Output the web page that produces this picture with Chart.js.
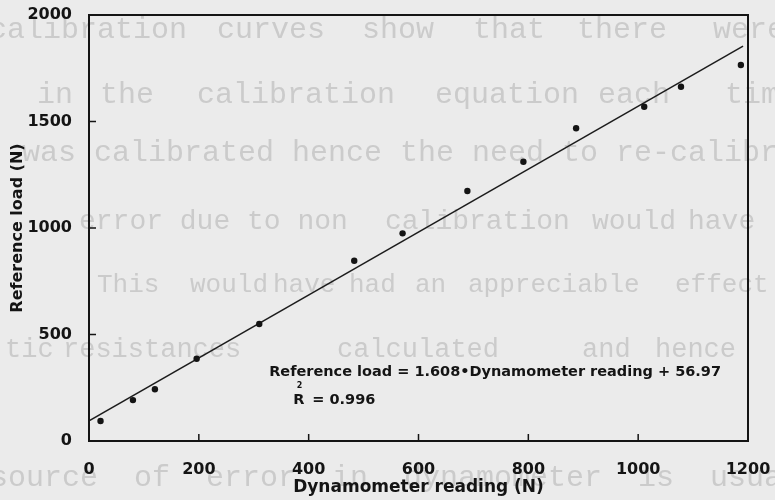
<!DOCTYPE html>
<html>
<head>
<meta charset="utf-8">
<title>Dynamometer calibration</title>
<script src="https://cdn.jsdelivr.net/npm/chart.js@4.4.1/dist/chart.umd.min.js"></script>
<style>
  html, body { margin: 0; padding: 0; background: #ebebeb; }
  canvas { display: block; }
</style>
</head>
<body>
<canvas id="calib-chart" width="775" height="500"></canvas>
<script>
// Calibration points
const dynamometerReading = [21, 80, 120, 196, 310, 483, 571, 689, 791, 887, 1011, 1078, 1187];
const referenceLoad = [94, 192, 243, 386, 549, 846, 975, 1174, 1311, 1468, 1569, 1663, 1765];

// Fitted line, taken from the two ends of the drawn line
const fitX = [0, 1191];
const fitY = [95, 1854];

// Axis ticks
const xTicks = [0, 200, 400, 600, 800, 1000, 1200];
const yTicks = [0, 500, 1000, 1500, 2000];

// Fit annotation
const equationText = 'Reference load = 1.608\u2022Dynamometer reading + 56.97';
const rSquaredValue = '= 0.996';

// Typed text of the page showing through the scan (decoration only)
const bleedLines = [
    { y: 30, size: 30, words: [['calibration', -11], ['curves', 217], ['show', 362], ['that', 473], ['there', 577], ['were', 713]] },
    { y: 95, size: 30, words: [['in', 37], ['the', 100], ['calibration', 197], ['equation', 435], ['each', 598], ['time', 725]] },
    { y: 153, size: 30, words: [['was calibrated hence the need to re-calibrate', 22]] },
    { y: 222, size: 28, words: [['error due to non', 79], ['calibration', 385], ['would', 592], ['have', 688]] },
    { y: 285, size: 26, words: [['This', 97], ['would', 190], ['have', 273], ['had', 349], ['an', 415], ['appreciable', 468], ['effect', 675]] },
    { y: 350, size: 27, words: [['tic', 5], ['resistances', 63], ['calculated', 337], ['and', 582], ['hence', 655]] },
    { y: 478, size: 30, words: [['source', -10], ['of', 134], ['error', 206], ['in', 332], ['dynamometer', 404], ['is', 638], ['usually', 710]] }
];

const INK = '#141414';
const FONT = '"DejaVu Sans", "Liberation Sans", sans-serif';

// Paper background and the faint see-through text
const paperPlugin = {
    id: 'paper',
    beforeDraw(chart) {
        const ctx = chart.ctx;
        ctx.save();
        ctx.fillStyle = '#ebebeb';
        ctx.fillRect(0, 0, chart.width, chart.height);
        ctx.fillStyle = '#cbcbcb';
        ctx.textBaseline = 'middle';
        bleedLines.forEach(line => {
            ctx.font = line.size + 'px "Liberation Mono", "DejaVu Sans Mono", monospace';
            line.words.forEach(([word, x]) => {
                ctx.fillText(word, x, line.y);
            });
        });
        ctx.restore();
    }
};

// Box round the plot and inward tick marks
const framePlugin = {
    id: 'frame',
    afterDatasetsDraw(chart) {
        const ctx = chart.ctx;
        const area = chart.chartArea;
        const xs = chart.scales.x;
        const ys = chart.scales.y;
        ctx.save();
        ctx.strokeStyle = INK;
        ctx.lineWidth = 2;
        ctx.strokeRect(area.left, area.top, area.right - area.left, area.bottom - area.top);
        ctx.lineWidth = 1.5;
        ctx.beginPath();
        xTicks.slice(1, -1).forEach(v => {
            const px = xs.getPixelForValue(v);
            ctx.moveTo(px, area.bottom);
            ctx.lineTo(px, area.bottom - 7);
        });
        yTicks.slice(1, -1).forEach(v => {
            const py = ys.getPixelForValue(v);
            ctx.moveTo(area.left, py);
            ctx.lineTo(area.left + 7, py);
        });
        ctx.stroke();
        ctx.restore();
    }
};

// Regression equation and R squared
const annotationPlugin = {
    id: 'fitLabel',
    afterDatasetsDraw(chart) {
        const ctx = chart.ctx;
        const xs = chart.scales.x;
        const ys = chart.scales.y;
        ctx.save();
        ctx.fillStyle = INK;
        ctx.textBaseline = 'middle';
        ctx.textAlign = 'left';

        // size the equation to the width it has in the scan
        ctx.font = 'bold 13px ' + FONT;
        const size = 13 * 451 / ctx.measureText(equationText).width;
        ctx.font = 'bold ' + size.toFixed(1) + 'px ' + FONT;
        ctx.fillText(equationText, xs.getPixelForValue(328), ys.getPixelForValue(324));

        const rx = xs.getPixelForValue(372);
        const ry = ys.getPixelForValue(192);
        ctx.fillText('R', rx, ry);
        const rw = ctx.measureText('R').width;
        ctx.fillText(rSquaredValue, rx + 19, ry);
        ctx.font = 'bold 8px ' + FONT;
        ctx.fillText('2', rx + rw / 2 - 2, ry - 14);
        ctx.restore();
    }
};

const tickFont = { family: FONT, size: 16, weight: 'bold' };
const titleFont = { family: FONT, size: 17, weight: 'bold' };

new Chart(document.getElementById('calib-chart'), {
    type: 'scatter',
    data: {
        datasets: [{
            label: 'Calibration points',
            data: dynamometerReading.map((x, i) => ({ x: x, y: referenceLoad[i] })),
            pointRadius: 3.2,
            pointBackgroundColor: INK,
            pointBorderWidth: 0,
            showLine: false
        }, {
            label: 'Fit',
            data: fitX.map((x, i) => ({ x: x, y: fitY[i] })),
            showLine: true,
            borderColor: '#1c1c1c',
            borderWidth: 1.5,
            pointRadius: 0
        }]
    },
    options: {
        responsive: false,
        animation: false,
        devicePixelRatio: 1,
        events: [],
        layout: { padding: { left: 0, top: 15, right: 27, bottom: 0 } },
        plugins: {
            legend: { display: false },
            tooltip: { enabled: false }
        },
        scales: {
            x: {
                type: 'linear',
                min: 0,
                max: 1200,
                afterBuildTicks: s => { s.ticks = xTicks.map(v => ({ value: v })); },
                afterFit: s => { s.height = 59; s.paddingLeft = 0; s.paddingRight = 0; },
                grid: { display: false },
                border: { display: false },
                ticks: { color: INK, font: tickFont, padding: 11, maxRotation: 0, callback: v => String(v) },
                title: {
                    display: true,
                    text: 'Dynamometer reading (N)',
                    color: INK,
                    font: titleFont,
                    padding: { top: 0, bottom: 2 }
                }
            },
            y: {
                type: 'linear',
                min: 0,
                max: 2000,
                afterBuildTicks: s => { s.ticks = yTicks.map(v => ({ value: v })); },
                afterFit: s => { s.width = 89; s.paddingTop = 0; s.paddingBottom = 0; },
                grid: { display: false },
                border: { display: false },
                ticks: { color: INK, font: tickFont, padding: 9, callback: v => String(v) },
                title: {
                    display: true,
                    text: 'Reference load (N)',
                    color: INK,
                    font: { family: FONT, size: 16, weight: 'bold' },
                    padding: { top: 8, bottom: 0 }
                }
            }
        }
    },
    plugins: [paperPlugin, framePlugin, annotationPlugin]
});
</script>
</body>
</html>
